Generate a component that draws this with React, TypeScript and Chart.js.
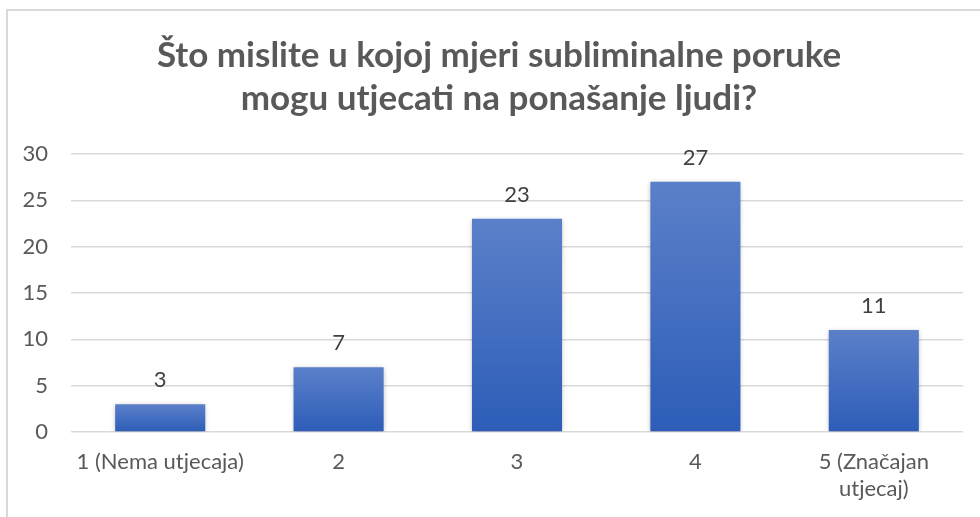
import React, { useEffect, useRef } from 'react';
import { Chart, registerables } from 'chart.js';

Chart.register(...registerables);

const titleLines = ['Što mislite u kojoj mjeri subliminalne poruke', 'mogu utjecati na ponašanje ljudi?'];
const categories: (string | string[])[] = ['1 (Nema utjecaja)', '2', '3', '4', ['5 (Značajan', 'utjecaj)']];
const values = [3, 7, 23, 27, 11];
const yMin = 0;
const yMax = 30;
const yStep = 5;

const FONT = 'Lato, "Open Sans", sans-serif';
const CW = 990;
const CH = 520;

const shadowPlugin = {
  id: 'barShadow',
  beforeDatasetsDraw(chart: any) {
    const ctx = chart.ctx;
    ctx.save();
    ctx.shadowColor = 'rgba(0,0,0,0.28)';
    ctx.shadowBlur = 5;
    ctx.shadowOffsetX = 0;
    ctx.shadowOffsetY = 1;
  },
  afterDatasetsDraw(chart: any) {
    chart.ctx.restore();
  },
};

const dataLabelPlugin = {
  id: 'dataLabels',
  afterDatasetsDraw(chart: any) {
    const ctx = chart.ctx;
    const meta = chart.getDatasetMeta(0);
    ctx.save();
    ctx.font = `22px ${FONT}`;
    ctx.fillStyle = '#404040';
    ctx.textAlign = 'center';
    ctx.textBaseline = 'alphabetic';
    meta.data.forEach((el: any, i: number) => {
      ctx.fillText(String(values[i]), el.x, el.y - 17);
    });
    ctx.restore();
  },
};

// centre the title over the same span as the reference
const titleShiftPlugin = {
  id: 'titleShift',
  afterLayout(chart: any) {
    if (chart.titleBlock) {
      chart.titleBlock.left = 27;
    }
  },
};

export default function App() {
  const ref = useRef<HTMLCanvasElement | null>(null);

  useEffect(() => {
    const canvas = ref.current;
    if (!canvas) return;
    document.body.style.margin = '0';
    document.body.style.overflow = 'hidden';
    const chart = new Chart(canvas, {
      type: 'bar',
      data: {
        labels: categories,
        datasets: [
          {
            data: values,
            barPercentage: 0.505,
            categoryPercentage: 1,
            borderWidth: 0,
            backgroundColor: (c: any) => {
              const ch = c.chart;
              const { ctx, chartArea, scales } = ch;
              if (!chartArea || !scales?.y || c.type !== 'data') return '#4472c4';
              const top = scales.y.getPixelForValue(values[c.dataIndex]);
              const bottom = scales.y.getPixelForValue(0);
              const g = ctx.createLinearGradient(0, top, 0, bottom);
              g.addColorStop(0, '#5b80c9');
              g.addColorStop(1, '#2d5db8');
              return g;
            },
          },
        ],
      },
      options: {
        responsive: false,
        animation: false,
        devicePixelRatio: 1,
        layout: { padding: { left: 0, right: CW - 955, top: 0, bottom: 0 } },
        plugins: {
          legend: { display: false },
          tooltip: { enabled: false },
          title: {
            display: true,
            text: titleLines,
            color: '#595959',
            font: { family: FONT, size: 35, weight: 'bold', lineHeight: 43 / 35 },
            padding: { top: 23, bottom: 34 },
          },
        },
        scales: {
          x: {
            grid: { display: false, drawTicks: false },
            border: { display: false },
            ticks: {
              color: '#595959',
              font: { family: FONT, size: 22, lineHeight: 27.5 / 22 },
              padding: 16,
              maxRotation: 0,
              autoSkip: false,
            },
            afterFit: (s: any) => {
              s.height = CH - 421;
            },
          },
          y: {
            min: yMin,
            max: yMax,
            grid: { color: '#d9d9d9', lineWidth: 1.5, drawTicks: false },
            border: { display: false },
            ticks: {
              stepSize: yStep,
              color: '#595959',
              font: { family: FONT, size: 22 },
              padding: 23,
            },
            afterFit: (s: any) => {
              s.width = 63;
            },
          },
        },
      },
      plugins: [shadowPlugin, dataLabelPlugin, titleShiftPlugin],
    } as any);
    (document as any).fonts?.ready?.then(() => chart.update());
    return () => chart.destroy();
  }, []);

  return (
    <div style={{ position: 'fixed', left: 0, top: 0, width: 980, height: 517, overflow: 'hidden', background: '#fff' }}>
      <div
        style={{
          position: 'absolute',
          left: 6,
          top: 9,
          width: 1000,
          height: 540,
          border: '2px solid #d9d9d9',
          boxSizing: 'border-box',
        }}
      >
        <canvas ref={ref} width={CW} height={CH} style={{ position: 'absolute', left: 0, top: 0, width: CW, height: CH }} />
      </div>
    </div>
  );
}
